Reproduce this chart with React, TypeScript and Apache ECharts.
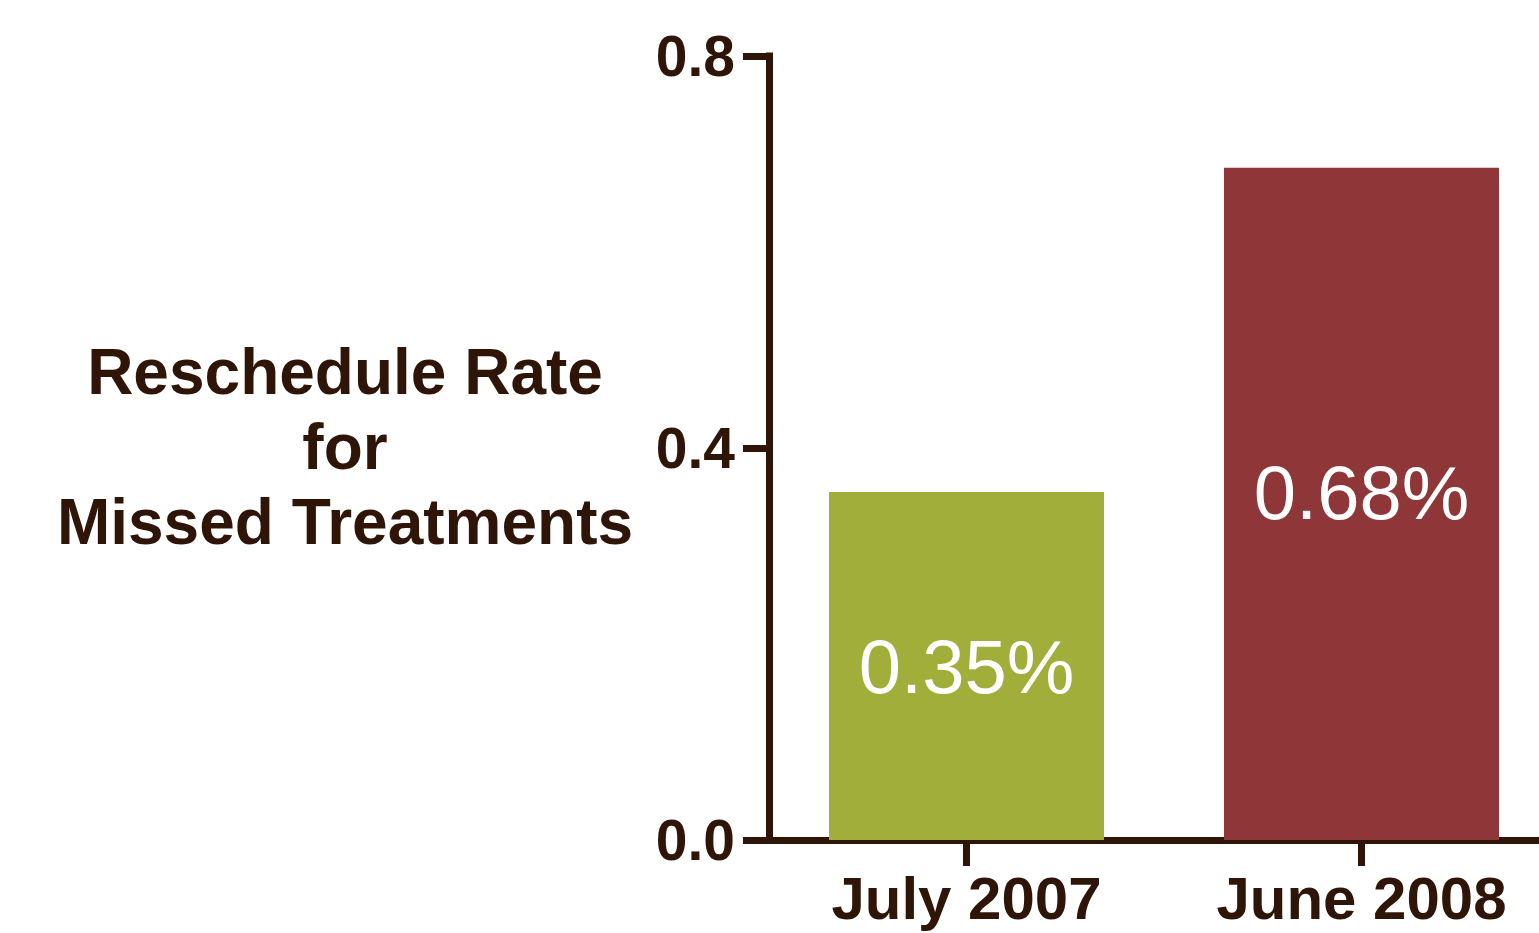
import React, { useEffect, useRef } from "react";
import * as echarts from "echarts";

const categories = ["July 2007", "June 2008"];
const values = [0.355, 0.686];
const valueLabels = ["0.35%", "0.68%"];
const barColors = ["#a2ae3a", "#8e3638"];
const yTicks = [0, 0.4, 0.8];
const yTitleLines = ["Reschedule Rate", "for", "Missed Treatments"];

const DARK = "#2e1508";
const FONT = "'Liberation Sans', Arial, Helvetica, sans-serif";

export default function App() {
  const ref = useRef<HTMLDivElement>(null);
  useEffect(() => {
    if (!ref.current) return;
    const chart = echarts.init(ref.current, null, { renderer: "svg" });
    chart.setOption({
      animation: false,
      grid: { left: 769, top: 56, bottom: 93, right: 0, containLabel: false },
      xAxis: {
        type: "category",
        data: categories,
        axisLine: { show: true, lineStyle: { color: DARK, width: 7 } },
        axisTick: { show: true, alignWithLabel: true, length: 26, lineStyle: { color: DARK, width: 7 } },
        axisLabel: { color: DARK, fontSize: 60, fontWeight: "bold", fontFamily: FONT, margin: 28 },
      },
      yAxis: {
        type: "value",
        min: yTicks[0],
        max: yTicks[yTicks.length - 1],
        interval: 0.4,
        splitLine: { show: false },
        axisLine: { show: true, lineStyle: { color: DARK, width: 7, cap: "square" } },
        axisTick: { show: true, length: 26, lineStyle: { color: DARK, width: 7 } },
        axisLabel: {
          color: DARK,
          fontSize: 57,
          fontWeight: "bold",
          fontFamily: FONT,
          margin: 34,
          formatter: (v: number) => v.toFixed(1),
        },
      },
      graphic: [
        {
          type: "text",
          x: 345,
          y: 447,
          style: {
            text: yTitleLines.join("\n"),
            fill: DARK,
            font: `bold 64px ${FONT}`,
            lineHeight: 75,
            textAlign: "center",
            textVerticalAlign: "middle",
          },
        },
      ],
      series: [
        {
          type: "bar",
          barWidth: 275,
          data: values.map((v, i) => ({
            value: v,
            itemStyle: { color: barColors[i] },
            label: {
              show: true,
              position: "inside",
              formatter: valueLabels[i],
              color: "#ffffff",
              fontSize: 76,
              fontFamily: FONT,
              offset: i === 1 ? [0, -11] : [0, 0],
            },
          })),
        },
      ],
    });
    return () => chart.dispose();
  }, []);
  return (
    <div
      style={{ position: "absolute", left: 0, top: 0, width: 1539, height: 933, overflow: "hidden", background: "#fff" }}
    >
      <div ref={ref} style={{ width: 1559, height: 933 }} />
    </div>
  );
}
